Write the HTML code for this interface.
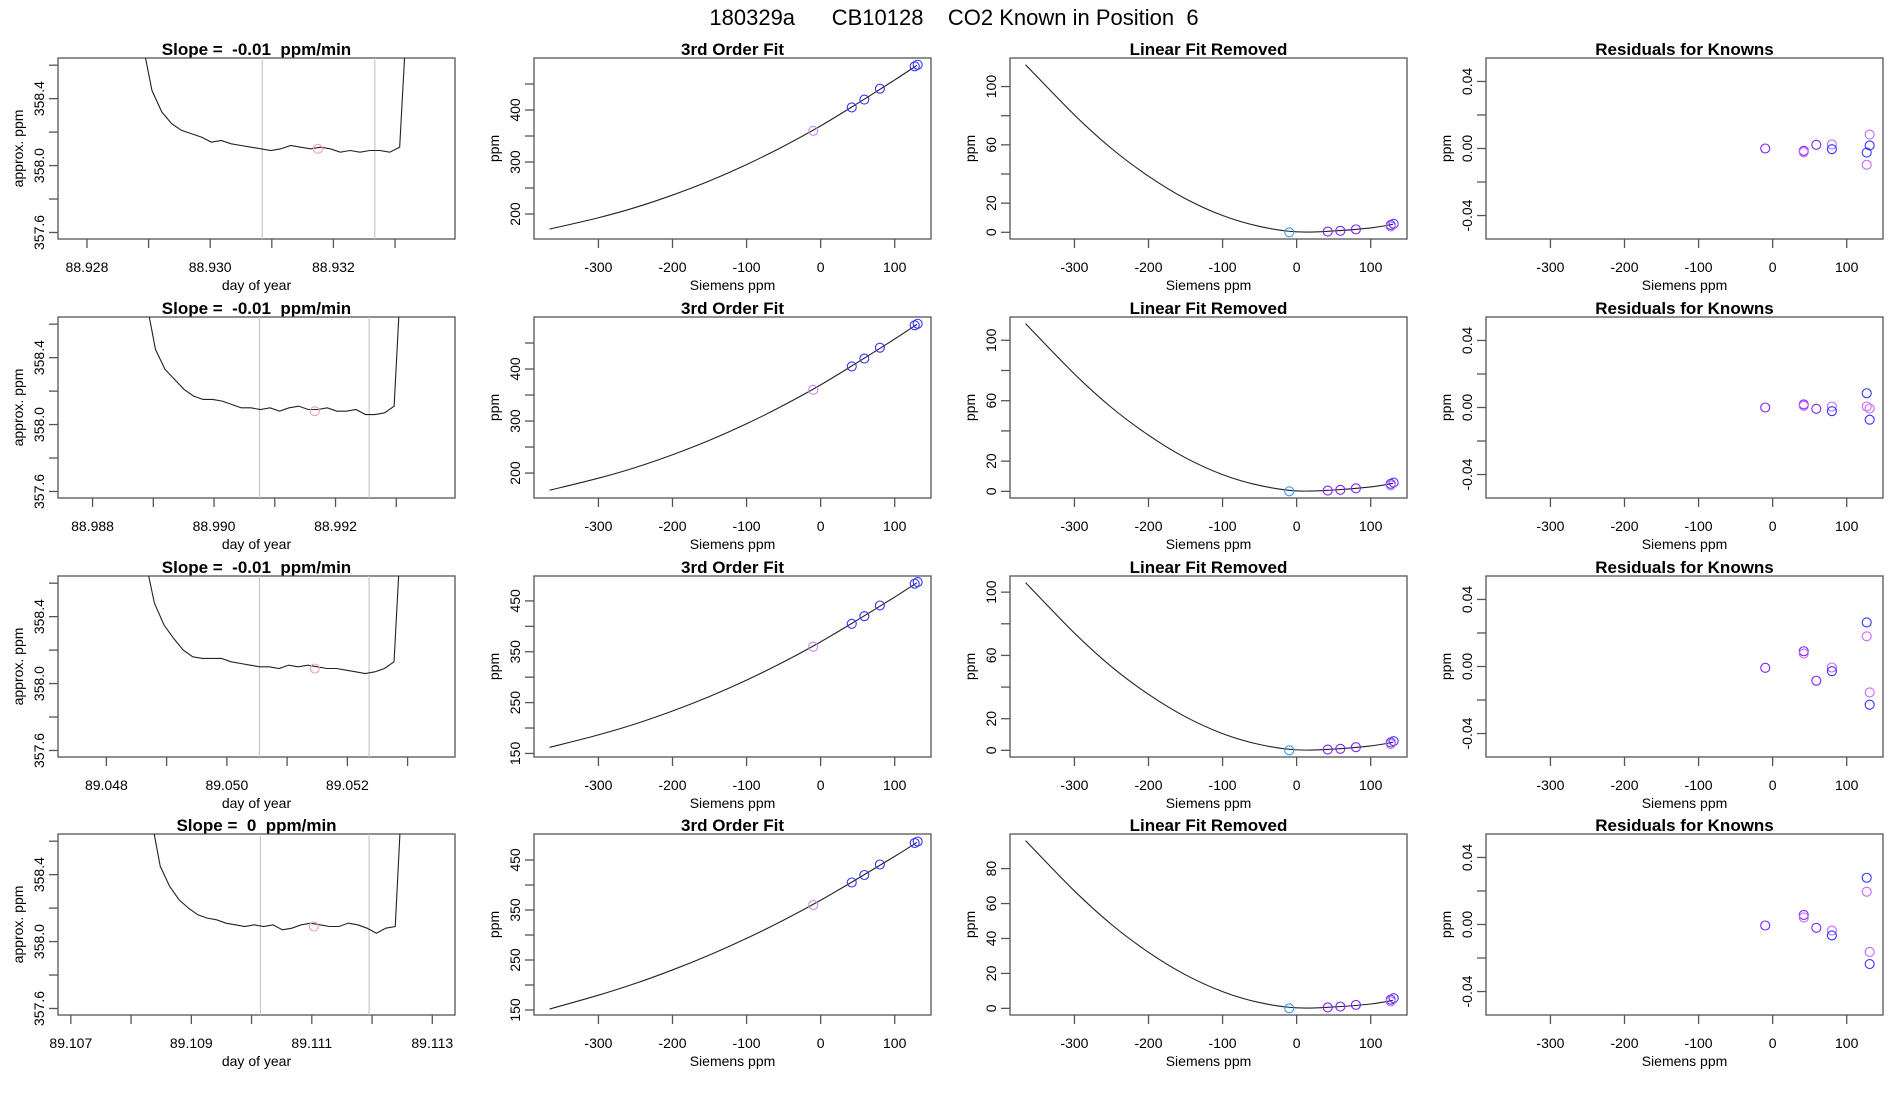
<!DOCTYPE html>
<html><head><meta charset="utf-8"><style>
html,body{margin:0;padding:0;background:#fff;}
svg{display:block;font-family:"Liberation Sans",Arial,sans-serif;}
text{white-space:pre;}
</style></head><body>
<svg id="fig" width="1900" height="1100" viewBox="0 0 1900 1100" xmlns="http://www.w3.org/2000/svg" xml:space="preserve">
<rect x="0" y="0" width="1900" height="1100" fill="#fff"/>
<text x="954" y="25" text-anchor="middle" font-size="22" xml:space="preserve">180329a      CB10128    CO2 Known in Position  6</text>
</svg>
<script>
// ---------- data ----------
const tsStart=[88.928893,88.988878,89.048639,89.108328];
const tsEnd=[88.933236,88.993122,89.052934,89.112541];
const tsPpm1=[358.75,358.45,358.32,358.25,358.21,358.19,358.17,358.14,358.15,358.13,358.12,358.11,358.10,358.09,358.10,358.12,358.11,358.10,358.11,358.10,358.08,358.09,358.08,358.09,358.09,358.08,358.11,359.2];
const tsPpm2=[358.75,358.45,358.33,358.27,358.21,358.17,358.15,358.15,358.14,358.12,358.10,358.10,358.09,358.10,358.08,358.10,358.11,358.09,358.09,358.10,358.08,358.08,358.09,358.06,358.06,358.07,358.11,359.2];
const tsPpm3=[358.75,358.48,358.35,358.27,358.20,358.16,358.15,358.15,358.15,358.13,358.12,358.11,358.10,358.10,358.09,358.11,358.10,358.11,358.10,358.09,358.09,358.08,358.07,358.06,358.07,358.09,358.13,359.2];
const tsPpm4=[358.75,358.45,358.33,358.25,358.20,358.16,358.14,358.13,358.11,358.10,358.09,358.10,358.09,358.10,358.07,358.08,358.10,358.11,358.10,358.09,358.09,358.11,358.10,358.08,358.05,358.08,358.09,359.2];
const tsXlim=[[88.927530,88.933973],[88.987431,88.993967],[89.047197,89.053787],[89.106787,89.113377]];
const tsTicks=[[88.928,88.929,88.930,88.931,88.932,88.933],[88.988,88.989,88.990,88.991,88.992,88.993],[89.048,89.049,89.050,89.051,89.052,89.053],[89.107,89.108,89.109,89.110,89.111,89.112,89.113]];
const tsTickLabels=[["88.928","","88.930","","88.932",""],["88.988","","88.990","","88.992",""],["89.048","","89.050","","89.052",""],["89.107","","89.109","","89.111","","89.113"]];
const refLines=[[88.930845,88.932672],[88.990748,88.992553],[89.050541,89.052361],[89.110148,89.111951]];
const markDay=[88.931748,88.991659,89.051459,89.111033];
const markPpm=[358.10,358.08,358.09,358.09];
const slopeTitles=["Slope =  -0.01  ppm/min","Slope =  -0.01  ppm/min","Slope =  -0.01  ppm/min","Slope =  0  ppm/min"];
const tsYlim=[357.561,358.643];
const tsYTicks=[357.6,357.8,358.0,358.2,358.4,358.6];
const tsYLabels=["357.6","","358.0","","358.4",""];

const sieXlim=[-387,149];
const sieXTicks=[-300,-200,-100,0,100];
const curveX=[-366,-300,-250,-200,-150,-100,-50,0,50,100,130];
const cubic1=[171,192.9,212.7,236.5,263.8,295.1,330.4,369.5,412.9,457.8,486];
const cubic2=[166.9,190.1,210.7,235.2,263,294.7,330.3,369.5,412.9,457.7,485.8];
const cubic3=[161.9,186.5,208.1,233.4,262,294.2,330.1,369.5,412.8,457.6,485.6];
const cubic4=[151.9,179.6,203.2,230.1,260,293.2,329.7,369.5,412.8,457.3,485.1];
const resid1=[115,80.5,57.5,38.5,23,11.5,4,0.3,0.9,3,5.5];
const resid2=[111,77.7,55.5,37.2,22.2,11.1,3.9,0.3,0.9,2.9,5.3];
const resid3=[106,74.1,52.9,35.4,21.2,10.6,3.7,0.3,0.8,2.8,5.1];
const resid4=[96,67.2,48,32.1,19.2,9.6,3.3,0.3,0.8,2.5,4.6];
const fitYlim=[[152,500],[152,500],[143,499],[140,502]];
const fitYTicks=[[200,250,300,350,400,450],[200,250,300,350,400,450],[150,200,250,300,350,400,450],[150,200,250,300,350,400,450]];
const fitYLabels=[["200","","300","","400",""],["200","","300","","400",""],["150","","250","","350","","450"],["150","","250","","350","","450"]];
const linYlim=[[-4.6,119.6],[-4.4,115.4],[-4.2,110.2],[-3.8,99.8]];
const linYTicks=[[0,20,40,60,80,100],[0,20,40,60,80,100],[0,20,40,60,80,100],[0,20,40,60,80]];
const linYLabels=[["0","20","","60","","100"],["0","20","","60","","100"],["0","20","","60","","100"],["0","20","40","60","80"]];
const knownX=[-10,42,59,80,127,131];
const knownPpm=[360,405,420,441,484,487];
const knownLin=[0,0.5,1,2,5,5.8];
const resX=[-10,42,42,59,80,80,127,127,131,131];
const resCol=["v","v","o","v","o","b","b","o","o","b"];
const res1=[0.000,-0.0014,-0.0022,0.0022,0.0024,-0.0004,-0.0024,-0.0097,0.0083,0.0018];
const res2=[0.000,0.0018,0.0010,-0.0008,0.0006,-0.0022,0.0085,0.0006,-0.0006,-0.0073];
const res3=[-0.0008,0.0091,0.0077,-0.0085,-0.0006,-0.0028,0.0263,0.0180,-0.0155,-0.0228];
const res4=[-0.0006,0.0057,0.0042,-0.0020,-0.0036,-0.0065,0.0279,0.0196,-0.0164,-0.0236];
const resYlim=[-0.054,0.054];
const resYTicks=[-0.04,-0.02,0,0.02,0.04];
const resYLabels=["-0.04","","0.00","","0.04"];

// ---------- layout ----------
const NS="http://www.w3.org/2000/svg";
const svg=document.getElementById('fig');
const colLeft=[58,534,1010,1486], rowTop=[58,317,576,834], W=397, H=181;
const COLORS={v:"#7f1fff",o:"#cc66ff",b:"#3333ff"};
function el(tag,attrs,parent){const e=document.createElementNS(NS,tag);for(const k in attrs)e.setAttribute(k,attrs[k]);(parent||svg).appendChild(e);return e;}
function sx(dom,v,l){return l+(v-dom[0])/(dom[1]-dom[0])*W;}
function sy(dom,v,t){return t+H-(v-dom[0])/(dom[1]-dom[0])*H;}
function smoothPath(pts){let d="M"+pts[0][0]+","+pts[0][1];
 for(let i=0;i<pts.length-1;i++){const p0=pts[Math.max(0,i-1)],p1=pts[i],p2=pts[i+1],p3=pts[Math.min(pts.length-1,i+2)];
  const c1=[p1[0]+(p2[0]-p0[0])/6,p1[1]+(p2[1]-p0[1])/6],c2=[p2[0]-(p3[0]-p1[0])/6,p2[1]-(p3[1]-p1[1])/6];
  d+=" C"+c1[0]+","+c1[1]+" "+c2[0]+","+c2[1]+" "+p2[0]+","+p2[1];}return d;}

function panel(r,c,title,xdom,xt,xl,xlab,ydom,yt,yl,ylab){
 const l=colLeft[c],t=rowTop[r];
 const g=el('g',{});
 
 
 const tt=el('text',{x:l+W/2,y:t-3,'text-anchor':'middle','font-size':17,'font-weight':'bold'},g);tt.textContent=title;
 
 
 const box=el('rect',{x:l,y:t,width:W,height:H,fill:'none',stroke:'#555','stroke-width':1.3},g);
 
 
 xt.forEach((v,i)=>{const x=sx(xdom,v,l);
  el('line',{x1:x,x2:x,y1:t+H,y2:t+H+9,stroke:'#555','stroke-width':1.3},g);
  if(xl[i]){const tx=el('text',{x:x,y:t+H+33,'text-anchor':'middle','font-size':14},g);tx.textContent=xl[i];
   
   }});
 const xa=el('text',{x:l+W/2,y:t+H+51,'text-anchor':'middle','font-size':14},g);xa.textContent=xlab;
 
 
 yt.forEach((v,i)=>{const y=sy(ydom,v,t);
  el('line',{x1:l-9,x2:l,y1:y,y2:y,stroke:'#555','stroke-width':1.3},g);
  if(yl[i]){const ty=el('text',{x:0,y:0,'text-anchor':'middle','font-size':14,transform:'translate('+(l-14)+','+y+') rotate(-90)'},g);ty.textContent=yl[i];
   
   }});
 const ya=el('text',{x:0,y:0,'text-anchor':'middle','font-size':14,transform:'translate('+(l-35)+','+(t+H/2)+') rotate(-90)'},g);ya.textContent=ylab;
 
 
 const cp=el('clipPath',{id:'cp'+r+c},g);el('rect',{x:l,y:t,width:W,height:H},cp);
 const inner=el('g',{'clip-path':'url(#cp'+r+c+')'},g);
 return {g:inner,l,t};
}
function circ(parent,x,y,col,name){const ci=el('circle',{cx:x,cy:y,r:4.5,fill:'none',stroke:col,'stroke-width':1.1},parent);
 
 return ci;}

const tsAll=[tsPpm1,tsPpm2,tsPpm3,tsPpm4];
const cubAll=[cubic1,cubic2,cubic3,cubic4];
const linAll=[resid1,resid2,resid3,resid4];
const resAll=[res1,res2,res3,res4];

for(let r=0;r<4;r++){
 let p=panel(r,0,slopeTitles[r],tsXlim[r],tsTicks[r],tsTickLabels[r],"day of year",tsYlim,tsYTicks,tsYLabels,"approx. ppm");
 refLines[r].forEach(d=>{const x=sx(tsXlim[r],d,p.l);const ln=el('line',{x1:x,x2:x,y1:p.t,y2:p.t+H,stroke:'#c8c8c8','stroke-width':1.2},p.g);
  
  });
 const vals=tsAll[r],n=vals.length;
 const pts=vals.map((v,i)=>[sx(tsXlim[r],tsStart[r]+(tsEnd[r]-tsStart[r])*i/(n-1),p.l),sy(tsYlim,v,p.t)]);
 const ln=el('polyline',{points:pts.map(q=>q.join(',')).join(' '),fill:'none',stroke:'#222','stroke-width':1.1},p.g);
 
 
 circ(p.g,sx(tsXlim[r],markDay[r],p.l),sy(tsYlim,markPpm[r],p.t),'#f4a0b0','sample-mean-marker');

 p=panel(r,1,"3rd Order Fit",sieXlim,sieXTicks,sieXTicks.map(String),"Siemens ppm",fitYlim[r],fitYTicks[r],fitYLabels[r],"ppm");
 const cp2=curveX.map((x,i)=>[sx(sieXlim,x,p.l),sy(fitYlim[r],cubAll[r][i],p.t)]);
 const c2=el('path',{d:smoothPath(cp2),fill:'none',stroke:'#222','stroke-width':1.1},p.g);
 
 
 knownX.forEach((x,i)=>circ(p.g,sx(sieXlim,x,p.l),sy(fitYlim[r],knownPpm[i],p.t),i==0?'#cc88ee':'#3333ff','known-point'));

 p=panel(r,2,"Linear Fit Removed",sieXlim,sieXTicks,sieXTicks.map(String),"Siemens ppm",linYlim[r],linYTicks[r],linYLabels[r],"ppm");
 const cp3=curveX.map((x,i)=>[sx(sieXlim,x,p.l),sy(linYlim[r],linAll[r][i],p.t)]);
 const c3=el('path',{d:smoothPath(cp3),fill:'none',stroke:'#222','stroke-width':1.1},p.g);
 
 
 knownX.forEach((x,i)=>circ(p.g,sx(sieXlim,x,p.l),sy(linYlim[r],knownLin[i],p.t),i==0?'#3399ff':(i>=4?'#5533ff':'#7f1fff'),'known-point'));
 circ(p.g,sx(sieXlim,127,p.l),sy(linYlim[r],knownLin[4]-1,p.t),'#cc66ff','known-point');

 p=panel(r,3,"Residuals for Knowns",sieXlim,sieXTicks,sieXTicks.map(String),"Siemens ppm",resYlim,resYTicks,resYLabels,"ppm");
 resX.forEach((x,i)=>circ(p.g,sx(sieXlim,x,p.l),sy(resYlim,resAll[r][i],p.t),COLORS[resCol[i]],'residual-point'));
}
</script>
</body></html>
